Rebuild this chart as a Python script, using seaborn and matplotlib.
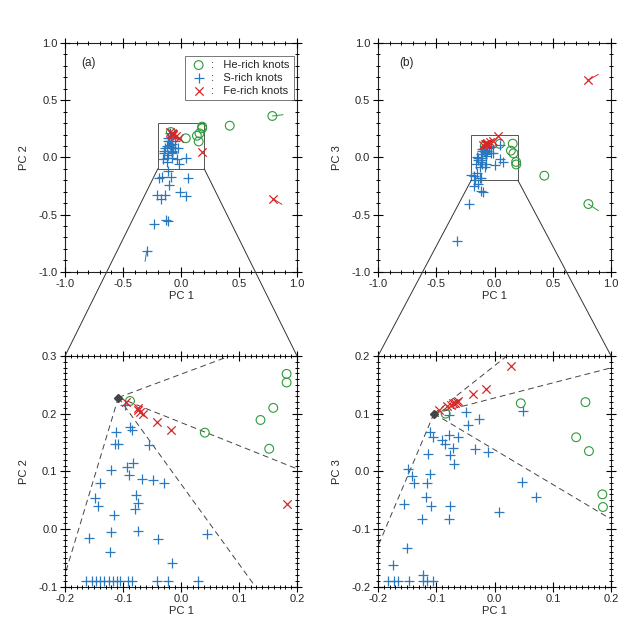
import numpy as np
import matplotlib
matplotlib.use("Agg")
import matplotlib.pyplot as plt
import seaborn as sns
from matplotlib.patches import Rectangle, ConnectionPatch
from matplotlib.ticker import MultipleLocator

# -----------------------------
# Data: panel (a) PC1 vs PC2
# -----------------------------
# points inside the zoomed region
a_he_x = [0.182, 0.182, 0.159, 0.137, 0.152, 0.041, -0.088]
a_he_y = [0.269, 0.254, 0.210, 0.189, 0.139, 0.167, 0.222]
a_fe_x = [-0.095, -0.075, -0.071, -0.065, -0.074, -0.042, -0.017, 0.182]
a_fe_y = [0.221, 0.206, 0.203, 0.200, 0.209, 0.186, 0.172, 0.043]
a_s_x = [-0.097, -0.112, -0.088, -0.085, -0.114, -0.108, -0.055, -0.082, -0.094, -0.089,
         -0.121, -0.068, -0.049, -0.029, -0.139, -0.078, -0.074, -0.079, -0.148, -0.144,
         -0.116, -0.120, -0.074, -0.158, -0.039, 0.044, -0.122, -0.015]
a_s_y = [0.215, 0.169, 0.177, 0.172, 0.147, 0.147, 0.145, 0.114, 0.107, 0.093,
         0.102, 0.086, 0.084, 0.079, 0.080, 0.058, 0.045, 0.034, 0.053, 0.040,
         0.024, -0.005, -0.004, -0.015, -0.018, -0.008, -0.040, -0.060]
# knots below the zoom window, drawn on its lower edge
a_s_edge_x = [-0.164, -0.154, -0.147, -0.140, -0.133, -0.125, -0.117, -0.111, -0.105,
              -0.091, -0.085, -0.042, -0.022, 0.029]
a_s_edge_y = [-0.091] * 14
# points outside the zoomed region (overview only)
a_he_out_x = [0.42, 0.787]
a_he_out_y = [0.277, 0.362]
a_fe_out_x = [0.79]
a_fe_out_y = [-0.36]
a_s_out_x = [-0.19, -0.16, -0.086, -0.10, 0.058, -0.21, -0.14, -0.17, -0.01, 0.043,
             -0.23, -0.13, -0.11, -0.296, -0.115]
a_s_out_y = [-0.18, -0.17, -0.17, -0.24, -0.18, -0.33, -0.33, -0.36, -0.30, -0.34,
             -0.585, -0.55, -0.56, -0.82, -0.12]
# short motion tails: (x0, y0, x1, y1, kind)
a_tails = [(0.787, 0.362, 0.88, 0.373, "he"),
           (0.79, -0.36, 0.868, -0.41, "fe"),
           (-0.296, -0.82, -0.31, -0.91, "s")]
a_vertex = (-0.108, 0.228)
a_ray_ends = [(0.084, 0.30), (0.198, 0.105), (0.128, -0.10), (-0.203, -0.089)]

# -----------------------------
# Data: panel (b) PC1 vs PC3
# -----------------------------
b_he_x = [-0.084, 0.045, 0.156, 0.140, 0.162, 0.185, 0.186]
b_he_y = [0.100, 0.118, 0.120, 0.059, 0.035, -0.040, -0.062]
b_fe_x = [0.028, -0.015, -0.037, -0.065, -0.071, -0.075, -0.068, -0.062, -0.095, -0.082]
b_fe_y = [0.183, 0.142, 0.134, 0.121, 0.118, 0.115, 0.119, 0.122, 0.106, 0.113]
b_s_x = [-0.079, -0.049, -0.027, -0.046, 0.048, -0.110, -0.106, -0.090, -0.085, -0.079,
         -0.063, -0.072, -0.076, -0.070, -0.033, -0.012, -0.115, -0.148, -0.142, -0.111,
         -0.139, -0.116, -0.118, -0.109, -0.076, -0.155, -0.125, -0.079, 0.047, 0.071,
         0.008, -0.150, -0.175, -0.122]
b_s_y = [0.098, 0.103, 0.091, 0.080, 0.105, 0.069, 0.059, 0.054, 0.047, 0.063,
         0.059, 0.041, 0.028, 0.012, 0.038, 0.034, 0.030, 0.004, -0.008, -0.004,
         -0.021, -0.020, -0.044, -0.060, -0.060, -0.057, -0.082, -0.082, -0.018, -0.044,
         -0.070, -0.134, -0.163, -0.180]
b_s_edge_x = [-0.182, -0.173, -0.165, -0.146, -0.122, -0.116, -0.105]
b_s_edge_y = [-0.190] * 7
b_he_out_x = [0.427, 0.805]
b_he_out_y = [-0.160, -0.408]
b_fe_out_x = [0.805]
b_fe_out_y = [0.676]
b_s_out_x = [-0.20, -0.167, -0.118, -0.18, -0.14, -0.118, -0.10, -0.216, -0.32]
b_s_out_y = [-0.154, -0.198, -0.183, -0.25, -0.233, -0.29, -0.30, -0.408, -0.73]
b_tails = [(0.805, 0.676, 0.891, 0.726, "fe"),
           (0.805, -0.408, 0.891, -0.466, "he")]
b_vertex = (-0.104, 0.100)
b_ray_ends = [(0.021, 0.20), (0.198, 0.179), (0.198, -0.082), (-0.200, -0.130)]

COLORS = {"he": "#2e9a3a", "s": "#2a78c0", "fe": "#d62728"}
FONT = 8

sns.set_style("ticks")
plt.rcParams.update({
    "font.family": ["Liberation Sans", "DejaVu Sans"],
    "font.size": FONT,
    "axes.axisbelow": False,
})


def draw_knots(ax, he, fe, s, label=False):
    sns.scatterplot(x=he[0], y=he[1], marker="o", s=40, color=COLORS["he"],
                    facecolor="none", edgecolor=COLORS["he"], linewidth=0.8, ax=ax,
                    label=":   He-rich knots" if label else None, zorder=3)
    sns.scatterplot(x=s[0], y=s[1], marker="+", s=55, color=COLORS["s"],
                    linewidth=0.9, ax=ax, label=":   S-rich knots" if label else None,
                    zorder=3)
    sns.scatterplot(x=fe[0], y=fe[1], marker="x", s=36, color=COLORS["fe"],
                    linewidth=0.9, ax=ax, label=":   Fe-rich knots" if label else None,
                    zorder=4)


def style_axes(ax, major, minor, xlim, ylim, ylabel):
    ax.set_xlim(*xlim)
    ax.set_ylim(*ylim)
    ax.xaxis.set_major_locator(MultipleLocator(major))
    ax.yaxis.set_major_locator(MultipleLocator(major))
    ax.xaxis.set_minor_locator(MultipleLocator(minor))
    ax.yaxis.set_minor_locator(MultipleLocator(minor))
    ax.xaxis.set_major_formatter(lambda v, p: f"{v:.1f}".replace("-0.0", "0.0"))
    ax.yaxis.set_major_formatter(lambda v, p: f"{v:.1f}".replace("-0.0", "0.0"))
    ax.set_axisbelow(False)
    for axis in (ax.xaxis, ax.yaxis):
        axis.set_tick_params(which="major", direction="inout", length=7, width=0.8,
                             color="black", pad=2, labelsize=FONT)
        axis.set_tick_params(which="minor", direction="inout", length=3.5, width=0.7,
                             color="black")
    ax.xaxis.set_tick_params(which="both", top=True, bottom=True)
    ax.yaxis.set_tick_params(which="both", left=True, right=True)
    for sp in ax.spines.values():
        sp.set_visible(True)
        sp.set_linewidth(0.8)
        sp.set_color("#222222")
    ax.set_xlabel("PC 1", fontsize=FONT, labelpad=1)
    ax.set_ylabel(ylabel, fontsize=FONT, labelpad=7)


def draw_rays(ax, vertex, ends):
    for ex, ey in ends:
        ax.plot([vertex[0], ex], [vertex[1], ey], color="#444444", lw=0.7,
                dashes=(6, 4), zorder=2)
    ax.plot(vertex[0], vertex[1], marker="D", ms=4.5, color="#444444", zorder=5)


fig = plt.figure(figsize=(6.3, 6.3), dpi=100)
ax_a = fig.add_axes([0.1032, 0.5687, 0.3683, 0.363])
ax_b = fig.add_axes([0.6000, 0.5687, 0.3700, 0.363])
ax_az = fig.add_axes([0.1032, 0.0690, 0.3683, 0.3659])
ax_bz = fig.add_axes([0.6000, 0.0690, 0.3700, 0.3659])

# overview (a)
draw_knots(ax_a, (a_he_x + a_he_out_x, a_he_y + a_he_out_y),
           (a_fe_x + a_fe_out_x, a_fe_y + a_fe_out_y),
           (a_s_x + a_s_out_x, a_s_y + a_s_out_y), label=True)
for x0, y0, x1, y1, k in a_tails:
    ax_a.plot([x0, x1], [y0, y1], color=COLORS[k], lw=0.7)
ax_a.add_patch(Rectangle((-0.2, -0.1), 0.4, 0.4, fill=False, ec="#555555", lw=0.7))
style_axes(ax_a, 0.5, 0.1, (-1, 1), (-1, 1), "PC 2")
ax_a.text(0.07, 0.9, "(a)", transform=ax_a.transAxes, fontsize=8.5)
leg = ax_a.legend(loc="upper right", bbox_to_anchor=(0.995, 0.955), frameon=True,
                  fancybox=False, edgecolor="#555555", fontsize=FONT,
                  handletextpad=0.3, handlelength=1.6, borderpad=0.4,
                  labelspacing=0.25, borderaxespad=0.2)
leg.get_frame().set_linewidth(0.7)

# overview (b)
draw_knots(ax_b, (b_he_x + b_he_out_x, b_he_y + b_he_out_y),
           (b_fe_x + b_fe_out_x, b_fe_y + b_fe_out_y),
           (b_s_x + b_s_out_x, b_s_y + b_s_out_y))
for x0, y0, x1, y1, k in b_tails:
    ax_b.plot([x0, x1], [y0, y1], color=COLORS[k], lw=0.7)
ax_b.add_patch(Rectangle((-0.2, -0.2), 0.4, 0.4, fill=False, ec="#555555", lw=0.7))
style_axes(ax_b, 0.5, 0.1, (-1, 1), (-1, 1), "PC 3")
ax_b.text(0.09, 0.9, "(b)", transform=ax_b.transAxes, fontsize=8.5)

# zoom (a)
draw_knots(ax_az, (a_he_x, a_he_y), (a_fe_x, a_fe_y),
           (a_s_x + a_s_edge_x, a_s_y + a_s_edge_y))
draw_rays(ax_az, a_vertex, a_ray_ends)
style_axes(ax_az, 0.1, 0.01, (-0.2, 0.2), (-0.1, 0.3), "PC 2")

# zoom (b)
draw_knots(ax_bz, (b_he_x, b_he_y), (b_fe_x, b_fe_y),
           (b_s_x + b_s_edge_x, b_s_y + b_s_edge_y))
draw_rays(ax_bz, b_vertex, b_ray_ends)
style_axes(ax_bz, 0.1, 0.01, (-0.2, 0.2), (-0.2, 0.2), "PC 3")

# connectors from the boxes to the zoom panels
for top, bot, yb in [(ax_a, ax_az, -0.1), (ax_b, ax_bz, -0.2)]:
    for xb, xf in [(-0.2, 0.0), (0.2, 1.0)]:
        con = ConnectionPatch(xyA=(xb, yb), coordsA=top.transData,
                              xyB=(xf, 1.0), coordsB=bot.transAxes,
                              color="#333333", lw=0.7)
        fig.add_artist(con)

fig.savefig("out.png", dpi=100)
